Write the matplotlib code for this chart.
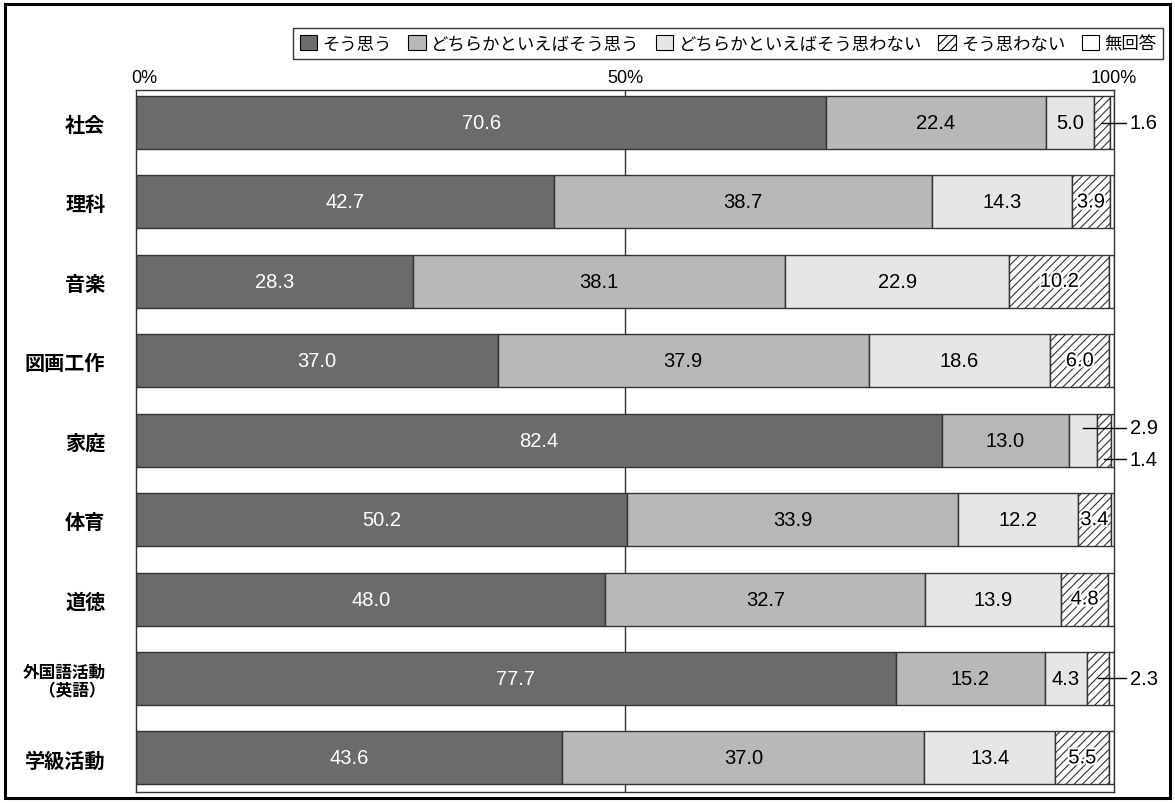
import matplotlib
matplotlib.use("Agg")
import matplotlib.pyplot as plt
from matplotlib.patches import Patch, Rectangle
import matplotlib.patheffects as pe
import numpy as np

plt.rcParams['font.family'] = ['Noto Sans CJK JP', 'DejaVu Sans']
plt.rcParams['hatch.linewidth'] = 0.8

# data (percent)
subjects = ['社会', '理科', '音楽', '図画工作', '家庭', '体育', '道徳', '外国語活動\n（英語）', '学級活動']
agree = [70.6, 42.7, 28.3, 37.0, 82.4, 50.2, 48.0, 77.7, 43.6]
rather_agree = [22.4, 38.7, 38.1, 37.9, 13.0, 33.9, 32.7, 15.2, 37.0]
rather_disagree = [5.0, 14.3, 22.9, 18.6, 2.9, 12.2, 13.9, 4.3, 13.4]
disagree = [1.6, 3.9, 10.2, 6.0, 1.4, 3.4, 4.8, 2.3, 5.5]
no_answer = [0.4, 0.4, 0.5, 0.5, 0.3, 0.3, 0.6, 0.5, 0.5]
series_names = ['そう思う', 'どちらかといえばそう思う', 'どちらかといえばそう思わない', 'そう思わない', '無回答']
xtick_vals = [0, 50, 100]
xtick_labels = ['0%', '50%', '100%']

num_font = 'Liberation Sans'
edge = '#333333'
colors = ['#6b6b6b', '#b8b8b8', '#e6e6e6', 'white', 'white']
hatches = [None, None, None, '////', None]

fig = plt.figure(figsize=(11.75, 8.04), dpi=100)
ax = fig.add_axes([136 / 1175, 1 - 793 / 804, (1114 - 136) / 1175, (793 - 91) / 804])

y = np.arange(len(subjects))
series = [agree, rather_agree, rather_disagree, disagree, no_answer]
left = np.zeros(len(subjects))
for vals, c, h in zip(series, colors, hatches):
    vals = np.array(vals)
    ax.barh(y, vals, left=left, height=0.667, color=c, edgecolor=edge,
            linewidth=1.0, hatch=h, zorder=2)
    left += vals

# labels inside bars, small ones pulled out with a leader line
outside = {0: [(3, 0.0)], 4: [(2, -0.16), (3, 0.24)], 7: [(3, 0.0)]}
for i in range(len(subjects)):
    start = 0.0
    for k in range(4):
        v = series[k][i]
        mid = start + v / 2
        skip = any(kk == k for kk, _ in outside.get(i, []))
        if not skip:
            col = 'white' if k == 0 else 'black'
            t = ax.text(mid, i, f'{v:.1f}', ha='center', va='center',
                        fontsize=14.5, color=col, family=num_font, zorder=4)
            if k == 3:
                t.set_path_effects([pe.withStroke(linewidth=3, foreground='white')])
        else:
            dy = [d for kk, d in outside[i] if kk == k][0]
            ax.plot([mid, 101.2], [i + dy, i + dy], color='black', lw=1.0,
                    clip_on=False, zorder=5)
            ax.text(101.6, i + dy, f'{v:.1f}', ha='left', va='center',
                    fontsize=14.5, family=num_font, clip_on=False)
        start += v

ax.axvline(50, color=edge, lw=1.0, zorder=1)
ax.set_xlim(0, 100)
ax.set_ylim(8.43, -0.41)
ax.set_xticks([])
ax.set_yticks(y)
ax.set_yticklabels(subjects, fontsize=14.5, fontweight='bold', ha='right',
                   multialignment='right', linespacing=1.05)
ax.get_yticklabels()[7].set_fontsize(12)
ax.tick_params(axis='y', length=0, pad=22)
for s in ax.spines.values():
    s.set_color(edge)
    s.set_linewidth(1.0)

for xv, lab in zip(xtick_vals, xtick_labels):
    ha = 'left' if xv == 0 else 'center'
    xo = xv - 0.5 if xv == 0 else xv
    ax.text(xo, 1.005, lab, transform=ax.get_xaxis_transform(), ha=ha,
            va='bottom', fontsize=13, family=num_font)

handles = [Patch(facecolor=c, edgecolor='black', hatch=h, linewidth=0.8)
           for c, h in zip(colors, hatches)]
leg = fig.legend(handles, series_names, loc='center', ncol=5,
                 bbox_to_anchor=(728 / 1175, 1 - 44.5 / 804), fontsize=12.5,
                 frameon=True, fancybox=False, edgecolor='black',
                 handlelength=1.0, handleheight=1.0, handletextpad=0.3,
                 columnspacing=0.95, borderpad=0.4)
leg.get_frame().set_linewidth(1.0)

fig.patches.append(Rectangle((5 / 1175, 5 / 804), 1165 / 1175, 794 / 804,
                             transform=fig.transFigure, fill=False,
                             edgecolor='black', linewidth=2.2))

fig.savefig('out.png', dpi=100)
